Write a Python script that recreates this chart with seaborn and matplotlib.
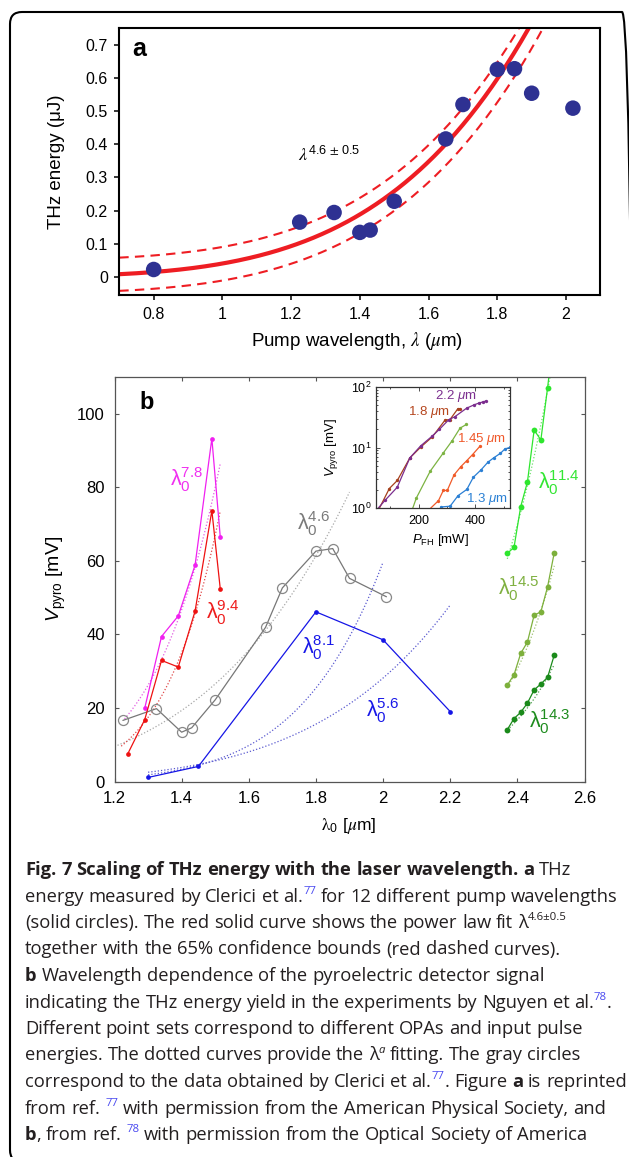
import re
import os
import numpy as np
import pandas as pd
import matplotlib
matplotlib.use("Agg")
import matplotlib.pyplot as plt
import matplotlib.font_manager as fm
from matplotlib.font_manager import FontProperties
from matplotlib.patches import FancyBboxPatch
from matplotlib.ticker import FixedLocator, NullFormatter, LogLocator
import seaborn as sns

# ---------------- panel a data ----------------
a_wavelength = [0.80, 1.225, 1.325, 1.40, 1.43, 1.50, 1.65, 1.70, 1.80, 1.85, 1.90, 2.02]
a_energy = [0.022, 0.165, 0.194, 0.134, 0.141, 0.228, 0.416, 0.520, 0.626, 0.628, 0.554, 0.509]
a_fit_amplitude = 0.040
a_fit_exponent = 4.6
a_bound_abs = 0.05
a_bound_rel_low = 0.035
a_fit_range = [0.70, 2.10]
a_xticks = [0.8, 1.0, 1.2, 1.4, 1.6, 1.8, 2.0]
a_xticklabels = ["0.8", "1", "1.2", "1.4", "1.6", "1.8", "2"]
a_yticks = [0.0, 0.1, 0.2, 0.3, 0.4, 0.5, 0.6, 0.7]
a_yticklabels = ["0", "0.1", "0.2", "0.3", "0.4", "0.5", "0.6", "0.7"]

# ---------------- panel b data ----------------
b_magenta_x = [1.29, 1.34, 1.39, 1.44, 1.49, 1.515]
b_magenta_y = [19.9, 39.4, 45.0, 58.8, 93.2, 66.5]
b_red_x = [1.24, 1.29, 1.34, 1.39, 1.44, 1.49, 1.515]
b_red_y = [7.6, 16.8, 32.9, 31.1, 46.3, 73.6, 52.4]
b_gray_x = [1.225, 1.325, 1.40, 1.43, 1.50, 1.65, 1.70, 1.80, 1.85, 1.90, 2.01]
b_gray_y = [16.6, 19.8, 13.4, 14.6, 22.2, 41.9, 52.6, 62.6, 63.3, 55.2, 50.2]
b_blue_x = [1.30, 1.45, 1.80, 2.00, 2.20]
b_blue_y = [1.1, 4.1, 46.1, 38.5, 19.0]
b_long_x = [2.37, 2.39, 2.41, 2.43, 2.45, 2.47, 2.49, 2.51]
b_lime_y = [62.0, 63.6, 74.7, 81.4, 95.5, 92.8, 107.0, 122.0]
b_olive_y = [26.2, 29.0, 34.8, 37.9, 45.2, 46.1, 52.9, 62.2]
b_dkgreen_y = [14.1, 17.1, 18.8, 21.3, 24.9, 26.5, 28.3, 34.4]

# power-law fits (lambda^a): exponent, start, end, value at start, colour
b_fit_exponent = [4.6, 7.8, 9.4, 8.1, 5.6, 11.4, 14.5, 14.3]
b_fit_start = [1.20, 1.23, 1.22, 1.30, 1.30, 2.37, 2.37, 2.37]
b_fit_end = [1.90, 1.515, 1.515, 2.00, 2.20, 2.50, 2.51, 2.51]
b_fit_y0 = [9.5, 17.0, 9.6, 1.82, 2.52, 60.5, 25.5, 14.0]
b_fit_color = ["#a8a8a8", "#e25ce2", "#e04848", "#5a5ad0", "#5a5ad0",
               "#6ee06e", "#9dc070", "#4f9f4f"]

b_xticks = [1.2, 1.4, 1.6, 1.8, 2.0, 2.2, 2.4, 2.6]
b_xticklabels = ["1.2", "1.4", "1.6", "1.8", "2", "2.2", "2.4", "2.6"]
b_yticks = [0, 20, 40, 60, 80, 100]

b_label_text = ["7.8", "9.4", "4.6", "8.1", "5.6", "11.4", "14.5", "14.3"]
b_label_x = [1.415, 1.521, 1.794, 1.807, 1.999, 2.525, 2.405, 2.496]
b_label_y = [82.0, 46.0, 70.0, 36.5, 19.3, 81.3, 52.3, 16.2]
b_label_color = ["#f030f0", "#ee1c1c", "#7a7a7a", "#1818e8", "#1818e8",
                 "#33e633", "#7fb040", "#1e8c1e"]

# ---------------- inset data ----------------
in_22_x = [45, 82, 125, 169, 207, 247, 273, 307, 327, 369, 395, 414, 427, 438]
in_22_y = [0.85, 1.34, 2.21, 6.72, 10.6, 15.3, 19.9, 29.0, 32.1, 44.6, 50.6, 54.6, 56.7, 58.9]
in_18_x = [52, 97, 125, 169, 207, 249, 294, 310, 338, 346]
in_18_y = [0.80, 2.1, 2.85, 6.7, 10.1, 15.1, 28.7, 28.7, 43.5, 44.0]
in_g_x = [178, 192, 241, 287, 318, 346, 368]
in_g_y = [0.95, 1.46, 4.06, 8.12, 12.9, 20.9, 24.0]
in_145_x = [236, 270, 287, 301, 325, 349, 370, 390, 417]
in_145_y = [0.93, 1.32, 1.95, 1.95, 3.53, 4.84, 6.08, 7.63, 10.6]
in_13_x = [278, 311, 339, 370, 393, 420, 444, 464, 488, 504, 522]
in_13_y = [1.04, 1.07, 1.6, 2.03, 3.23, 4.27, 5.7, 6.72, 8.0, 9.45, 10.07]
in_label_text = [r"2.2 $\mu$m", r"1.8 $\mu$m", r"1.45 $\mu$m", r"1.3 $\mu$m"]
in_label_x = [259, 164, 336, 367]
in_label_y = [71, 38.8, 13.8, 1.42]
in_label_color = ["#7b2f8f", "#b5461e", "#f0582a", "#2a80d4"]

# ---------------- caption ----------------
cap_lines = [
    [("Fig. 7 Scaling of THz energy with the laser wavelength. a", "b"), (" THz", "r")],
    [("energy measured by Clerici et al.", "r"), ("77", "sb"), (" for 12 different pump wavelengths", "r")],
    [("(solid circles). The red solid curve shows the power law fit λ", "r"), ("4.6±0.5", "sk")],
    [("together with the 65% confidence bounds (red dashed curves).", "r")],
    [("b", "b"), (" Wavelength dependence of the pyroelectric detector signal", "r")],
    [("indicating the THz energy yield in the experiments by Nguyen et al.", "r"), ("78", "sb"), (".", "r")],
    [("Different point sets correspond to different OPAs and input pulse", "r")],
    [("energies. The dotted curves provide the λ", "r"), ("a", "si"), (" fitting. The gray circles", "r")],
    [("correspond to the data obtained by Clerici et al.", "r"), ("77", "sb"), (". Figure ", "r"),
     ("a", "b"), (" is reprinted", "r")],
    [("from ref. ", "r"), ("77", "sb"), (" with permission from the American Physical Society, and", "r")],
    [("b", "b"), (", from ref. ", "r"), ("78", "sb"), (" with permission from the Optical Society of America", "r")],
]

# ---------------- style ----------------
sns.set_theme(style="ticks")
plt.rcParams.update({
    "font.family": ["Liberation Sans", "DejaVu Sans"],
    "mathtext.fontset": "custom",
    "mathtext.rm": "Liberation Sans",
    "mathtext.it": "Liberation Sans:italic",
    "mathtext.bf": "Liberation Sans:bold",
    "axes.facecolor": "white",
    "figure.facecolor": "white",
    "axes.grid": False,
    "text.color": "black",
    "axes.labelcolor": "black",
    "xtick.color": "black",
    "ytick.color": "black",
})

W, H = 629, 1157
fig = plt.figure(figsize=(W / 100, H / 100), dpi=100)


def rect(l, t, r, b):
    return [l / W, 1 - b / H, (r - l) / W, (b - t) / H]


# ================= panel a =================
axa = fig.add_axes(rect(119.3, 28.3, 600.4, 295.0))
red = "#ee1d23"
lam_a = np.linspace(a_fit_range[0], a_fit_range[1], 400)
fit_a = a_fit_amplitude * lam_a ** a_fit_exponent
upper_a = fit_a + a_bound_abs
lower_a = fit_a - a_bound_abs - a_bound_rel_low * fit_a
for yy in (upper_a, lower_a):
    sns.lineplot(x=lam_a, y=yy, ax=axa, color=red, lw=1.5, linestyle=(0, (4.5, 3)),
                 estimator=None, sort=False)
sns.lineplot(x=lam_a, y=fit_a, ax=axa, color=red, lw=3.0, estimator=None, sort=False)
sns.scatterplot(x=a_wavelength, y=a_energy, ax=axa, s=125, color="#2e3192",
                edgecolor="none", zorder=4)
axa.set_xlim(0.7, 2.1)
axa.set_ylim(-0.055, 0.75)
axa.set_xticks(a_xticks)
axa.set_xticklabels(a_xticklabels)
axa.set_yticks(a_yticks)
axa.set_yticklabels(a_yticklabels)
for s in axa.spines.values():
    s.set_visible(True)
    s.set_linewidth(1.5)
    s.set_color("black")
axa.tick_params(direction="out", length=3.8, width=1.1, labelsize=11.5, pad=4.5,
                top=False, right=False)
axa.set_ylabel("THz energy (μJ)", fontsize=13.5)
axa.set_xlabel(r"Pump wavelength, $\lambda$ ($\mu$m)", fontsize=13.5, math_fontfamily="stix")
axa.yaxis.set_label_coords(-0.113, 0.5)
axa.xaxis.set_label_coords(0.494, -0.13)
axa.text(0.042, 0.896, "a", transform=axa.transAxes, fontsize=18, fontweight="bold",
         ha="center", va="baseline")
axa.text(1.310, 0.3655, r"$\lambda^{\mathregular{4.6}\,\pm\,\mathregular{0.5}}$", fontsize=13,
         ha="center", va="center", math_fontfamily="stix")

# ================= panel b =================
axb = fig.add_axes(rect(114.5, 376.7, 584.5, 781.5))
for e, s0, s1, y0, c in zip(b_fit_exponent, b_fit_start, b_fit_end, b_fit_y0, b_fit_color):
    lam = np.linspace(s0, s1, 120)
    sns.lineplot(x=lam, y=y0 * (lam / s0) ** e, ax=axb, color=c, lw=0.9,
                 linestyle=(0, (1, 1.6)), estimator=None, sort=False)


def series(ax, x, y, color, ms, lw=0.9, **kw):
    sns.lineplot(x=x, y=y, ax=ax, color=color, lw=lw, marker="o", markersize=ms,
                 markeredgecolor=kw.pop("mec", color), markeredgewidth=kw.pop("mew", 0),
                 estimator=None, sort=False, **kw)


series(axb, b_gray_x, b_gray_y, "#777777", 7.2, markerfacecolor="none", mec="#888888", mew=0.9)
series(axb, b_magenta_x, b_magenta_y, "#f020f0", 3.4)
series(axb, b_red_x, b_red_y, "#ee1111", 3.4)
series(axb, b_blue_x, b_blue_y, "#1515e6", 3.4)
series(axb, b_long_x, b_lime_y, "#2ee62e", 4.2)
series(axb, b_long_x, b_olive_y, "#7db03c", 4.2)
series(axb, b_long_x, b_dkgreen_y, "#1a8a1a", 4.2)

for t, x, y, c in zip(b_label_text, b_label_x, b_label_y, b_label_color):
    axb.text(x, y, r"$\mathregular{λ_0^{%s}}$" % t, color=c, fontsize=15.5,
             ha="center", va="center")

axb.set_xlim(1.2, 2.6)
axb.set_ylim(0, 110)
axb.set_xticks(b_xticks)
axb.set_xticklabels(b_xticklabels)
axb.set_yticks(b_yticks)
for s in axb.spines.values():
    s.set_visible(True)
    s.set_linewidth(0.9)
    s.set_color("#555555")
axb.tick_params(direction="in", length=3.2, width=0.8, color="#555555", labelsize=12,
                pad=7, top=True, right=True)
axb.set_ylabel(r"$V_\mathregular{pyro}$ [mV]", fontsize=14)
axb.set_xlabel(r"$\mathrm{\lambda}_\mathregular{0}$ [$\mu$m]", fontsize=12.5, math_fontfamily="stix")
axb.yaxis.set_label_coords(-0.10, 0.5)
axb.xaxis.set_label_coords(0.499, -0.085)
axb.text(0.068, 0.92, "b", transform=axb.transAxes, fontsize=17, fontweight="bold",
         ha="center", va="baseline")

# ================= inset =================
axi = fig.add_axes(rect(376, 387, 510, 508))
axi.set_facecolor("white")
series(axi, in_18_x, in_18_y, "#a5401d", 2.4)
series(axi, in_22_x, in_22_y, "#7b2d8e", 2.4)
series(axi, in_g_x, in_g_y, "#7cb342", 2.4)
series(axi, in_145_x, in_145_y, "#f05a28", 2.4)
series(axi, in_13_x, in_13_y, "#2a7fd4", 2.4)
for t, x, y, c in zip(in_label_text, in_label_x, in_label_y, in_label_color):
    axi.text(x, y, t, color=c, fontsize=9.5, ha="left", va="center")
axi.set_yscale("log")
axi.set_xlim(50, 522)
axi.set_ylim(1, 100)
axi.xaxis.set_major_locator(FixedLocator([200, 400]))
axi.xaxis.set_minor_locator(FixedLocator([100, 300, 500]))
axi.yaxis.set_major_locator(LogLocator(base=10, numticks=5))
axi.yaxis.set_minor_locator(LogLocator(base=10, subs=np.arange(2, 10), numticks=20))
axi.yaxis.set_minor_formatter(NullFormatter())
for s in axi.spines.values():
    s.set_visible(True)
    s.set_linewidth(0.9)
    s.set_color("#333333")
axi.tick_params(which="both", direction="in", top=True, right=True, color="#333333",
                labelsize=9, width=0.6)
axi.tick_params(which="major", length=3, pad=3)
axi.tick_params(which="minor", length=1.6)
axi.tick_params(axis="x", pad=5)
axi.set_ylabel(r"$V_\mathregular{pyro}$ [mV]", fontsize=9.5)
axi.set_xlabel(r"$P_\mathregular{FH}$ [mW]", fontsize=9.5)
axi.yaxis.set_label_coords(-0.27, 0.5)
axi.xaxis.set_label_coords(0.48, -0.2)

# ================= border =================
box = FancyBboxPatch((10 / 100, (H - 1162) / 100), (634 - 10) / 100, (1162 - 12) / 100,
                     boxstyle="round,pad=0,rounding_size=0.12",
                     transform=fig.dpi_scale_trans, fill=False, edgecolor="black",
                     linewidth=1.5, clip_on=False)
fig.add_artist(box)

# ================= caption =================
cap_files = {}
for f in fm.fontManager.ttflist:
    base_name = os.path.basename(f.fname)
    m = re.match(r"NotoSans-SemiCondensed(Bold|Italic)?\.[ot]tf$", base_name)
    if m:
        cap_files[m.group(1) or "Regular"] = f.fname
names = {f.name for f in fm.fontManager.ttflist}
fallback_family = next((f for f in ["Open Sans", "Noto Sans"] if f in names), "DejaVu Sans")
use_files = "Regular" in cap_files and "Bold" in cap_files


def cap_fp(size, weight="normal", style="normal"):
    if use_files:
        if weight == "bold":
            return FontProperties(fname=cap_files["Bold"], size=size)
        if style == "italic" and "Italic" in cap_files:
            return FontProperties(fname=cap_files["Italic"], size=size)
        return FontProperties(fname=cap_files["Regular"], size=size)
    return FontProperties(family=fallback_family, size=size, weight=weight, style=style)


cap_color = "#231f20"
link_blue = "#4848f0"
renderer = fig.canvas.get_renderer()
_sp = {}


def text_width(s, fs, weight, style="normal"):
    t = fig.text(0, 0, s, fontproperties=cap_fp(fs, weight, style))
    w = t.get_window_extent(renderer).width
    t.remove()
    return w


def space_width(fs, weight):
    key = (round(fs, 3), weight)
    if key not in _sp:
        _sp[key] = text_width("n n", fs, weight) - text_width("nn", fs, weight)
    return _sp[key]


def place_line(runs, x0, yb, size, draw=True):
    x = x0
    arts = []
    for txt, kind in runs:
        if kind.startswith("s"):
            fs = size * 0.62
            dy = size * 0.42 * 100 / 72
            col = link_blue if kind == "sb" else cap_color
            style = "italic" if kind == "si" else "normal"
            weight = "normal"
        else:
            fs = size
            dy = 0
            col = cap_color
            style = "normal"
            weight = "bold" if kind == "b" else "normal"
        for part in re.split(r"( )", txt):
            if part == "":
                continue
            if part == " ":
                x += space_width(fs, weight)
                continue
            t = fig.text(x / W, 1 - (yb - dy) / H, part, fontproperties=cap_fp(fs, weight, style),
                         color=col, ha="left", va="baseline")
            x += t.get_window_extent(renderer).width
            arts.append(t)
    if not draw:
        for a in arts:
            a.remove()
    return x


cap_x0 = 25
base = 12.0
end = place_line(cap_lines[1], cap_x0, 900, base, draw=False)
_sp.clear()
cap_size = base * (617 - cap_x0) / (end - cap_x0)
for i, line in enumerate(cap_lines):
    place_line(line, cap_x0, 875 + 26.5 * i, cap_size)

fig.savefig("out.png", dpi=100)
